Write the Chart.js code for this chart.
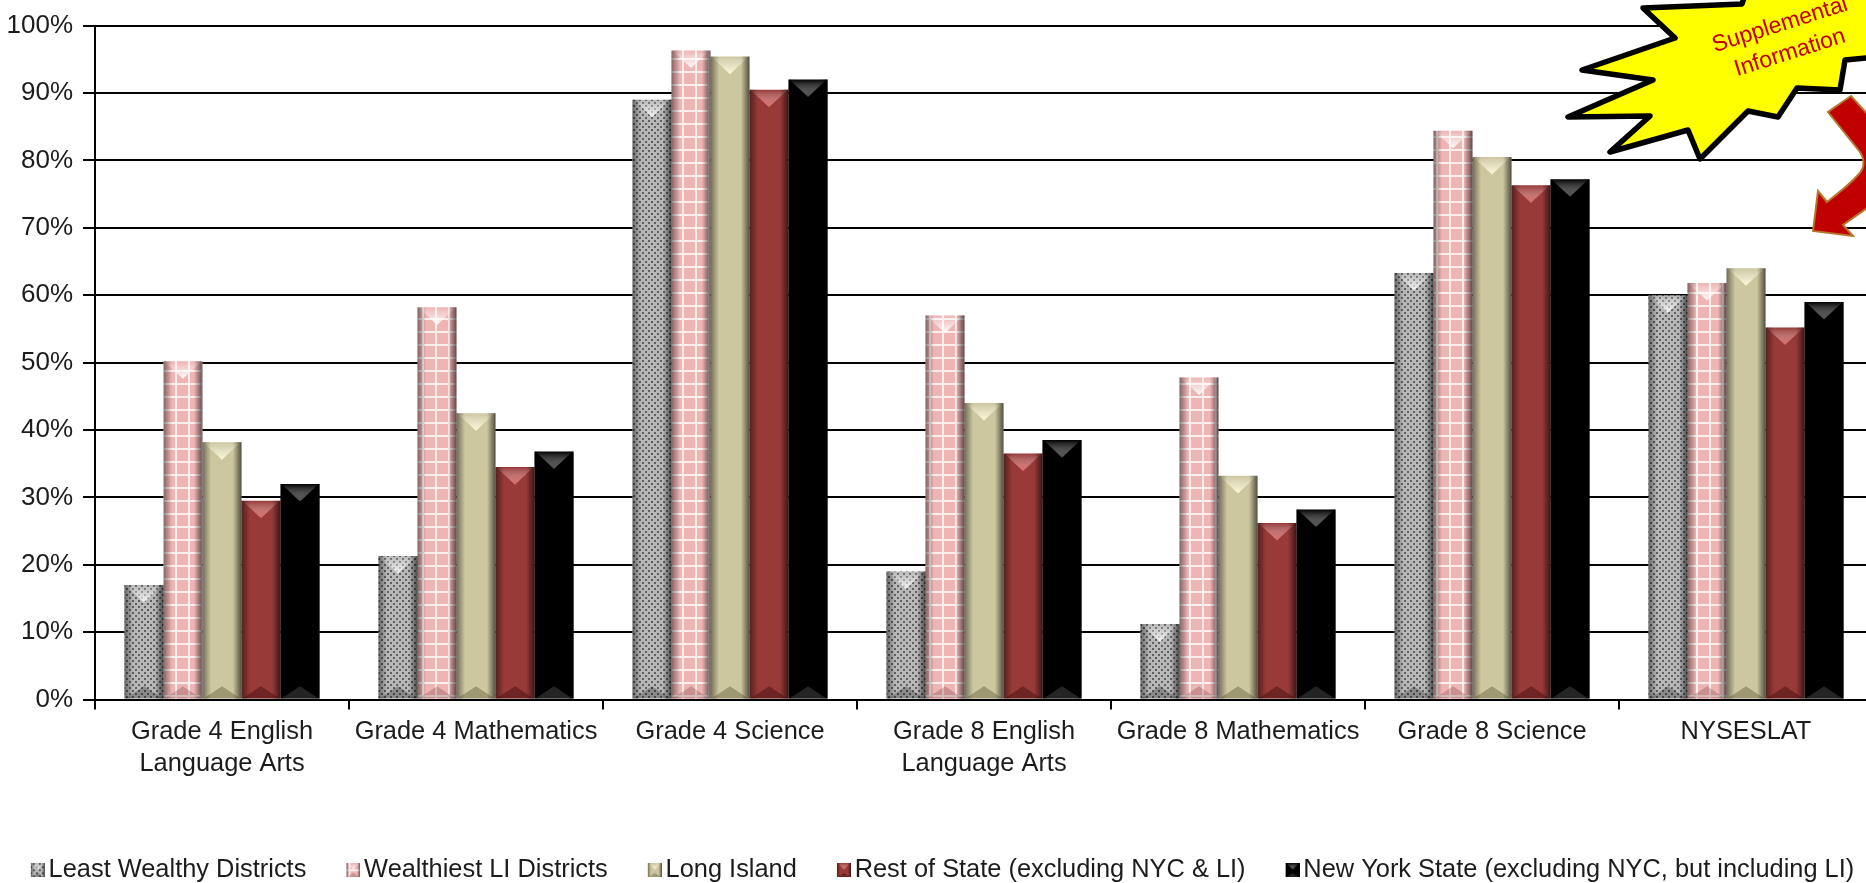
<!DOCTYPE html>
<html>
<head>
<meta charset="utf-8">
<title>Supplemental Information</title>
<script src="https://cdn.jsdelivr.net/npm/chart.js@4"></script>
<style>
    html, body { margin: 0; padding: 0; background: #fff; overflow: hidden; width: 1866px; height: 883px; }
    canvas { display: block; }
</style>
</head>
<body>
<canvas id="chart" width="1940" height="893"></canvas>
<script>
var categories = [
    ['Grade 4 English', 'Language Arts'],
    'Grade 4 Mathematics',
    'Grade 4 Science',
    ['Grade 8 English', 'Language Arts'],
    'Grade 8 Mathematics',
    'Grade 8 Science',
    'NYSESLAT'
];
var seriesNames = [
    'Least Wealthy Districts',
    'Wealthiest LI Districts',
    'Long Island',
    'Rest of State (excluding NYC & LI)',
    'New York State (excluding NYC, but including LI)'
];
var leastWealthy = [17, 21.3, 89, 19, 11.2, 63.3, 60];
var wealthiestLI = [50.2, 58.2, 96.3, 57, 47.8, 84.4, 61.8];
var longIsland = [38.2, 42.5, 95.4, 44, 33.2, 80.5, 64];
var restOfState = [29.5, 34.5, 90.5, 36.5, 26.2, 76.3, 55.2];
var newYorkState = [32, 36.8, 92, 38.5, 28.2, 77.2, 59];
var yTicks = [0, 10, 20, 30, 40, 50, 60, 70, 80, 90, 100];

var FONT = '"Liberation Sans", Arial, sans-serif';
var TEXT = '#1c1c1c';

function dotPattern() {
    var c = document.createElement('canvas');
    c.width = 6; c.height = 6;
    var g = c.getContext('2d');
    g.fillStyle = '#b8b8b8';
    g.fillRect(0, 0, 6, 6);
    g.fillStyle = '#5f5f5f';
    g.fillRect(0, 0, 2, 2);
    g.fillRect(3, 3, 2, 2);
    return g.createPattern(c, 'repeat');
}

function gridPattern() {
    var c = document.createElement('canvas');
    c.width = 13; c.height = 13;
    var g = c.getContext('2d');
    g.fillStyle = '#efb4b4';
    g.fillRect(0, 0, 13, 13);
    g.fillStyle = '#fdeeee';
    g.fillRect(0, 6, 13, 2);
    g.fillRect(6, 0, 2, 13);
    return g.createPattern(c, 'repeat');
}

var fills = [dotPattern(), gridPattern(), '#cdc79f', '#983a38', '#000000'];
// light wedge at the top of the bar, dark wedge at the foot
var topWedge = ['rgba(255,255,255,0.85)', 'rgba(255,255,255,0.95)', 'rgba(255,252,215,0.95)', 'rgba(225,105,105,0.9)', 'rgba(80,80,80,0.9)'];
var footWedge = ['rgba(0,0,0,0.25)', 'rgba(120,60,60,0.3)', 'rgba(70,65,30,0.35)', 'rgba(60,10,10,0.45)', 'rgba(60,60,60,0.6)'];

function wedges(g, x, w, top, bottom, i) {
    var depth = w * 0.45;
    var tg = g.createLinearGradient(0, top, 0, top + depth);
    tg.addColorStop(0, 'rgba(255,255,255,0)');
    tg.addColorStop(1, topWedge[i]);
    g.fillStyle = tg;
    g.beginPath();
    g.moveTo(x + 1, top);
    g.lineTo(x + w - 1, top);
    g.lineTo(x + w / 2, top + depth);
    g.closePath();
    g.fill();

    g.fillStyle = footWedge[i];
    g.beginPath();
    g.moveTo(x + 1, bottom);
    g.lineTo(x + w - 1, bottom);
    g.lineTo(x + w / 2, bottom - depth * 0.7);
    g.closePath();
    g.fill();
}

function sides(g, x, w, top, bottom) {
    var edge = Math.max(2, w * 0.22);
    var lg = g.createLinearGradient(x, 0, x + edge, 0);
    lg.addColorStop(0, 'rgba(0,0,0,0.45)');
    lg.addColorStop(1, 'rgba(0,0,0,0)');
    g.fillStyle = lg;
    g.fillRect(x, top, edge, bottom - top);
    var rg = g.createLinearGradient(x + w - edge, 0, x + w, 0);
    rg.addColorStop(0, 'rgba(0,0,0,0)');
    rg.addColorStop(1, 'rgba(0,0,0,0.6)');
    g.fillStyle = rg;
    g.fillRect(x + w - edge, top, edge, bottom - top);
}

function legendMarker(i) {
    var c = document.createElement('canvas');
    c.width = 18; c.height = 14;
    var g = c.getContext('2d');
    g.fillStyle = fills[i];
    g.fillRect(4, 0, 14, 14);
    sides(g, 4, 14, 0, 14);
    wedges(g, 4, 14, 0, 14, i);
    return c;
}

var bevelPlugin = {
    id: 'bevel',
    afterDatasetsDraw: function (chart) {
        var g = chart.ctx;
        g.save();
        chart.data.datasets.forEach(function (ds, i) {
            chart.getDatasetMeta(i).data.forEach(function (bar) {
                var x = bar.x - bar.width / 2;
                sides(g, x, bar.width, bar.y, bar.base);
                wedges(g, x, bar.width, bar.y, bar.base, i);
            });
        });
        g.restore();
    }
};

// the legend row sits a little left of the centre of the oversized canvas
var legendShiftPlugin = {
    id: 'legendShift',
    afterLayout: function (chart) {
        chart.legend.left -= 25;
        chart.legend.right -= 25;
    }
};

// the callout pasted over the top right corner of the slide
var calloutPlugin = {
    id: 'callout',
    afterDraw: function (chart) {
        var g = chart.ctx;
        var star = [[1643, 8], [1675, 38], [1582, 70], [1653, 80], [1568, 117], [1650, 116], [1610, 152],
            [1688, 130], [1700, 159], [1748, 111], [1778, 117], [1797, 88], [1840, 90], [1845, 60],
            [1866, 58], [1900, 55], [1900, -20], [1750, -20], [1742, 4]];
        g.save();
        g.beginPath();
        star.forEach(function (p, i) {
            if (i === 0) g.moveTo(p[0], p[1]); else g.lineTo(p[0], p[1]);
        });
        g.closePath();
        g.fillStyle = '#ffff00';
        g.fill();
        g.lineWidth = 5.5;
        g.lineJoin = 'round';
        g.strokeStyle = '#000';
        g.stroke();

        g.fillStyle = '#c00000';
        g.font = '23px ' + FONT;
        g.textAlign = 'center';
        g.textBaseline = 'middle';
        [['Supplemental', 1780, 25], ['Information', 1790, 53]].forEach(function (t) {
            g.save();
            g.translate(t[1], t[2]);
            g.rotate(-17.5 * Math.PI / 180);
            g.fillText(t[0], 0, 0);
            g.restore();
        });

        g.beginPath();
        g.moveTo(1813, 231);
        g.lineTo(1818, 191);
        g.lineTo(1827, 202);
        g.quadraticCurveTo(1848, 186, 1858, 175);
        g.quadraticCurveTo(1868, 165, 1860, 152);
        g.lineTo(1828, 112);
        g.lineTo(1851, 96);
        g.lineTo(1900, 150);
        g.lineTo(1900, 185);
        g.lineTo(1843, 225);
        g.lineTo(1853, 236);
        g.closePath();
        g.fillStyle = '#c00000';
        g.fill();
        g.lineWidth = 2;
        g.lineJoin = 'miter';
        g.strokeStyle = '#b5762b';
        g.stroke();
        g.restore();
    }
};

var allValues = [leastWealthy, wealthiestLI, longIsland, restOfState, newYorkState];

new Chart(document.getElementById('chart').getContext('2d'), {
    type: 'bar',
    data: {
        labels: categories,
        datasets: allValues.map(function (values, i) {
            return {
                label: seriesNames[i],
                data: values,
                backgroundColor: fills[i],
                borderWidth: 0,
                categoryPercentage: 0.768,
                barPercentage: 1
            };
        })
    },
    plugins: [bevelPlugin, legendShiftPlugin, calloutPlugin],
    options: {
        responsive: false,
        animation: false,
        devicePixelRatio: 1,
        layout: { padding: { top: 23, right: 0, left: 0, bottom: 0 } },
        plugins: {
            title: { display: false },
            tooltip: { enabled: false },
            legend: {
                position: 'bottom',
                labels: {
                    usePointStyle: true,
                    pointStyleWidth: 0.1,
                    padding: 45,
                    color: TEXT,
                    font: { family: FONT, size: 25.4 },
                    generateLabels: function (chart) {
                        return Chart.defaults.plugins.legend.labels.generateLabels(chart).map(function (item, i) {
                            item.pointStyle = legendMarker(i);
                            return item;
                        });
                    }
                }
            }
        },
        scales: {
            x: {
                afterFit: function (scale) { scale.height = 113; },
                border: { color: '#000', width: 2 },
                grid: { drawOnChartArea: false, color: '#000', lineWidth: 2, tickLength: 10 },
                ticks: {
                    color: TEXT,
                    autoSkip: false,
                    maxRotation: 0,
                    padding: 6,
                    font: { family: FONT, size: 25.4, lineHeight: 1.26 }
                }
            },
            y: {
                min: 0,
                max: 100,
                afterFit: function (scale) { scale.width = 95; },
                afterBuildTicks: function (scale) {
                    scale.ticks = yTicks.map(function (v) { return { value: v }; });
                },
                border: { color: '#000', width: 2 },
                grid: { color: '#000', lineWidth: 2, tickLength: 12 },
                ticks: {
                    color: TEXT,
                    padding: 10,
                    font: { family: FONT, size: 26 },
                    callback: function (v) { return v + '%'; }
                }
            },
            // empty axis: keeps the plot short of the canvas edge without narrowing the legend row
            spacer: {
                type: 'linear',
                position: 'right',
                min: 0,
                max: 100,
                afterFit: function (scale) { scale.width = 67; },
                border: { display: false },
                grid: { display: false },
                ticks: { display: false }
            }
        }
    }
});
</script>
</body>
</html>
